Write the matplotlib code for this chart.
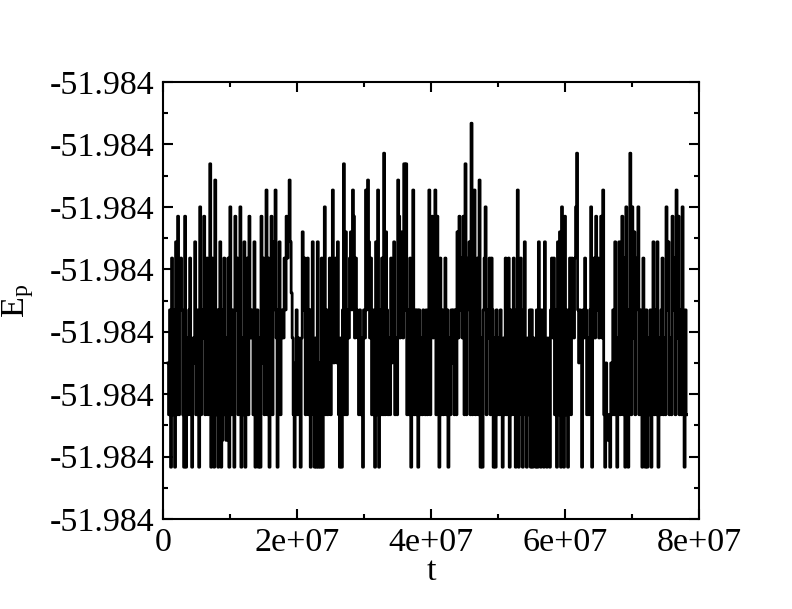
import numpy as np
import matplotlib
matplotlib.use("Agg")
import matplotlib.pyplot as plt
from matplotlib.ticker import MultipleLocator, FormatStrFormatter, FuncFormatter

plt.rcParams['font.family'] = ['Liberation Serif', 'DejaVu Serif']
plt.rcParams['mathtext.fontset'] = 'custom'
plt.rcParams['mathtext.rm'] = 'Liberation Serif'
plt.rcParams['mathtext.it'] = 'Liberation Serif:italic'

# energy levels seen in the trace, offsets from -51.984 in units of 1e-7
level_codes = "abcdefghijklmnopq"
level_offsets = [-317, -274, -233, -150, -110, -65, -38, 18, 44, 60,
                 85, 100, 127, 143, 169, 186, 234]

# sampled trace, one code per sample
trace = (
    "dcfahcfaic" "kcfhfcakae" "cfhcaedicf" "calcfekcfh" "ceoahcancf"
    "afiabfhcbe" "halcfcakfh" "cflaeciafhckef" "eciacfaeak" "dhcfmchafk"
    "cfimeafice" "fehfkhjnige" "cadfcecaej" "fhcehcfafi" "caeaiadaha"
    "elcfcehcfm" "dfhdi" "caeafocjcf" "ehjfmkehfe" "cfceafemfn"
    "iehcfcaicm" "afchcpcjfc" "echdficecn" "kejfeofocf" "chaemcfcfafcecfd"
    "cfcemcfkeh" "mckfahcfce" "hcfaecfdfc" "fcjekfhekc" "ocfhicqcfm"
    "cfhcnaeafh" "lcfehchfae" "afcecfcaechcf" "hafcehcafm" "aehcaficae"
    "cfafaecafa" "icafdaicae" "cafhehcfai" "cjaleakcfa" "ehchfehlpf"
    "dfeafehfce" "cflaehekf" "hefkemcadc" "bcadcfcica" "eicfkchale"
    "afpclejcfh" "lcfcaheafa" "ecfaeicfci" "aecfhceclf" "iceckfhcme"
    "kcfcleafc"
)
t_start = 7.5e5
t_step = 1.5e5

lookup = dict(zip(level_codes, level_offsets))
ep = -51.984 + np.array([lookup[c] for c in trace]) * 1e-7
t = t_start + t_step * np.arange(len(ep))

fig = plt.figure(figsize=(7.92, 6.09), dpi=100)
ax = fig.add_axes([163 / 792, 1 - 519 / 609, 536 / 792, 437 / 609])
ax.plot(t, ep, color='black', lw=2.0, drawstyle='steps-mid')

ax.set_xlim(0, 8e7)
ax.set_ylim(-51.98404, -51.98397)
ax.xaxis.set_major_locator(MultipleLocator(2e7))
ax.xaxis.set_minor_locator(MultipleLocator(1e7))
ax.yaxis.set_major_locator(MultipleLocator(1e-5))
ax.yaxis.set_minor_locator(MultipleLocator(5e-6))
ax.yaxis.set_major_formatter(FormatStrFormatter('%.3f'))
ax.xaxis.set_major_formatter(FuncFormatter(lambda v, p: '%g' % v))

ax.tick_params(which='both', direction='in', top=True, right=True,
               width=1.5, labelsize=24.5)
ax.tick_params(which='major', length=7, pad=6)
ax.tick_params(which='minor', length=3.5)
for s in ax.spines.values():
    s.set_linewidth(1.5)

ax.set_xlabel('t', fontsize=24.5, labelpad=-1)
ax.set_ylabel(r'E$_{\mathrm{p}}$', fontsize=24.5, labelpad=10)

fig.savefig('out.png', dpi=100)
